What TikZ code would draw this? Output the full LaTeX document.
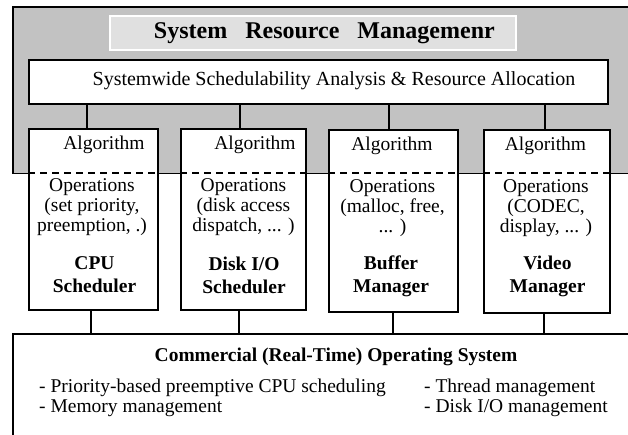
\documentclass[tikz,border=0pt]{standalone}
\usepackage{fontspec}
\setmainfont{Liberation Serif}
\begin{document}
\begin{tikzpicture}[x=1pt,y=-1pt,
  box/.style={draw,line width=1.3pt,fill=white,inner sep=0pt},
  txt/.style={inner sep=0pt,font=\fontsize{19.5}{20}\selectfont,align=center},
  btxt/.style={inner sep=0pt,font=\fontsize{19.5}{23}\selectfont\bfseries,align=center},
  conn/.style={line width=1.2pt},
  sepline/.style={line width=1.1pt,dash pattern=on 7pt off 5pt},
  border/.style={line width=1.3pt}]
\useasboundingbox (0,0) rectangle (628,435);
% shaded management region
\node[fill=black!24,inner sep=0pt,minimum width=620pt,minimum height=166pt,anchor=north west] (region) at (13,7) {};
\draw[border] (region.north east) -- (region.north west) -- (region.south west) -- (region.south east);
% banner
\node[fill=black!12,draw=white,line width=1.5pt,inner sep=0pt,minimum width=406pt,minimum height=34pt] (banner) at (313,33) {};
\node[anchor=east,inner sep=0pt,font=\fontsize{24}{24}\selectfont\bfseries] (title) at (495,33) {System\hspace{0.75em}Resource\hspace{0.75em}Managemenr};
% systemwide box
\node[box,minimum width=579pt,minimum height=44pt] (sys) at (318.5,82) {};
\node[txt,font=\fontsize{20}{20}\selectfont] (systxt) at (334,81) {Systemwide Schedulability Analysis \& Resource Allocation};
% OS box
\node[fill=white,inner sep=0pt,minimum width=620pt,minimum height=110pt,anchor=north west] (os) at (13,334) {};
\draw[border] (os.north east) -- (os.north west) -- (os.south west);
% columns
\node[box,minimum width=129pt,minimum height=181pt] (cpu) at (93.5,219.5) {};
\node[box,minimum width=125pt,minimum height=181pt] (disk) at (243.5,219.5) {};
\node[box,minimum width=129pt,minimum height=182pt] (buf) at (393.5,221) {};
\node[box,minimum width=126pt,minimum height=183pt] (vid) at (547,221.5) {};
\foreach \c in {cpu,disk,buf,vid}{
  \draw[sepline] (\c.west |- 0,173) -- (\c.east |- 0,173);
}
% connectors
\draw[conn] (sys.south -| 87,0) -- (cpu.north -| 87,0);
\draw[conn] (sys.south -| 240,0) -- (disk.north -| 240,0);
\draw[conn] (sys.south -| 389,0) -- (buf.north -| 389,0);
\draw[conn] (sys.south -| 545,0) -- (vid.north -| 545,0);
\draw[conn] (cpu.south -| 91,0) -- (os.north -| 91,0);
\draw[conn] (disk.south -| 239,0) -- (os.north -| 239,0);
\draw[conn] (buf.south -| 393,0) -- (os.north -| 393,0);
\draw[conn] (vid.south -| 544,0) -- (os.north -| 544,0);
% column texts
\node[txt] (cpualg) at (104,145) {Algorithm};
\node[txt] (disalg) at (255,145) {Algorithm};
\node[txt] (bufalg) at (392,146) {Algorithm};
\node[txt] (vidalg) at (545.5,146) {Algorithm};
\node[txt] (cpuops) at (92,207) {Operations\\(set priority,\\preemption, .)};
\node[txt] (disops) at (243.5,207) {Operations\\(disk access\\dispatch, ... )};
\node[txt] (bufops) at (392.5,208) {Operations\\(malloc, free,\\... )};
\node[txt] (vidops) at (546,208) {Operations\\(CODEC,\\display, ... )};
\node[btxt] (cpuname) at (94.5,275) {CPU\\Scheduler};
\node[btxt] (disname) at (244,275) {Disk I/O\\Scheduler};
\node[btxt] (bufname) at (391,276) {Buffer\\Manager};
\node[btxt] (vidname) at (547.5,276) {Video\\Manager};
% OS texts
\node[btxt] (ostitle) at (336,357) {Commercial (Real-Time) Operating System};
\node[txt,anchor=west,align=left] (osleft) at (39,398) {- Priority-based preemptive CPU scheduling\\- Memory management};
\node[txt,anchor=west,align=left] (osright) at (424,398) {- Thread management\\- Disk I/O management};
\end{tikzpicture}
\end{document}
